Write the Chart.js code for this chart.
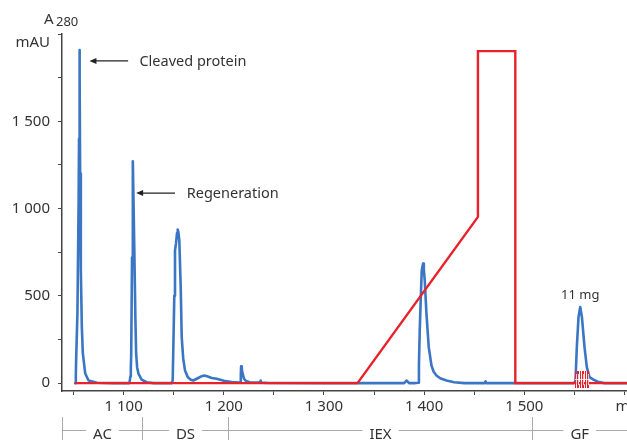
<!DOCTYPE html>
<html>
<head>
<meta charset="utf-8">
<title>Chromatogram</title>
<script src="https://cdn.jsdelivr.net/npm/chart.js@4/dist/chart.umd.min.js"></script>
<style>
  html, body { margin: 0; padding: 0; background: #fff; }
  #wrap { width: 627px; height: 440px; }
</style>
</head>
<body>
<div id="wrap"><canvas id="chromatogram" width="627" height="440"></canvas></div>
<script>
// A280 trace (ml, mAU)
const blueMl = [
  1051.6, 1052.3, 1052.6, 1053.9, 1055.1, 1055.5, 1055.9, 1056.3, 1056.6, 1057.3, 1058.3, 1059.3, 1061.7, 1065, 1073.3, 1090,
  1105.8, 1106.8, 1107.2, 1107.6, 1108.4, 1109.2, 1110.3, 1111.8, 1112.5, 1113.5, 1114.8, 1118, 1123, 1130,
  1148, 1149, 1149.8, 1150.6, 1151.3, 1152.3, 1153.3, 1154, 1154.8, 1155.6, 1157, 1158, 1159.5, 1161.3, 1164, 1167,
  1169.6, 1174, 1178, 1180.6, 1184, 1188, 1192.9, 1200, 1207.9, 1215.5,
  1216.6, 1217, 1217.3, 1218, 1218.8, 1220.1, 1222, 1226, 1235, 1236.4, 1236.8, 1237.3, 1245, 1300, 1380, 1382.4, 1385,
  1390, 1393.9, 1394.8, 1395.6, 1396.6, 1397.6, 1398.9, 1399.7, 1400.6, 1402.3, 1404.6, 1407.3, 1409.5, 1412.3, 1416,
  1422.3, 1430, 1440, 1460.5, 1461.3, 1462, 1548,
  1549, 1550.5, 1551.1, 1552.4, 1554.1, 1555.8, 1557.5, 1560.1, 1562.4, 1565.1, 1569, 1573.4, 1580, 1605
];
const blueMau = [
  0, 40, 130, 400, 1047, 1400, 1908, 1750, 1200, 646, 321, 170, 55, 15, 2, 0,
  0, 40, 83, 170, 720, 1271, 900, 360, 170, 90, 55, 20, 5, 0,
  0, 15, 250, 500, 760, 800, 860, 880, 860, 818, 550, 264, 140, 73, 35, 20,
  15, 28, 40, 44, 38, 30, 25, 14, 6, 4,
  2, 50, 96, 80, 54, 27, 12, 5, 3, 8, 15, 3, 1, 0, 0, 15, 0,
  0, 2, 100, 302, 480, 646, 685, 650, 589, 398, 206, 101, 65, 44, 28,
  15, 5, 0, 0, 10, 0, 0,
  0, 5, 15, 206, 378, 436, 378, 206, 92, 34, 20, 8, 0, 0
];

// gradient / conductivity trace
const redMl = [1051.6, 1333.5, 1453.7, 1453.7, 1491, 1491, 1605];
const redMau = [0, 0, 952, 1902, 1902, 0, 0];

// collected fractions around the GF peak
const fractionMl = [1550.5, 1553, 1555.5, 1558, 1560.5, 1563, 1565.5];

// purification steps along the volume axis
const phaseStart = [1038.5, 1118.5, 1204, 1508];
const phaseNames = ['AC', 'DS', 'IEX', 'GF'];

const yLabelled = [0, 500, 1000, 1500];
const xLabelled = [1100, 1200, 1300, 1400, 1500];
const xUnit = 'ml';

const TEXT = '#333';
const AXIS = '#444';
const RED = '#e8212b';
const FONT = '"Noto Sans", "Liberation Sans", sans-serif';

function fmt(v) {
  return String(v).replace(/\B(?=(\d{3})+(?!\d))/g, ' ');
}

function toPoints(xs, ys) {
  return xs.map((x, i) => ({x: x, y: ys[i]}));
}

function arrow(ctx, x1, y, x2) {
  ctx.beginPath();
  ctx.moveTo(x1, y);
  ctx.lineTo(x2 + 5, y);
  ctx.stroke();
  ctx.beginPath();
  ctx.moveTo(x2, y);
  ctx.lineTo(x2 + 7, y - 3);
  ctx.lineTo(x2 + 7, y + 3);
  ctx.closePath();
  ctx.fill();
}

const extras = {
  id: 'extras',
  afterDatasetsDraw(chart) {
    const {ctx, scales: {x, y}} = chart;
    ctx.save();
    // fraction blocks: red with thin white separators
    const top = Math.round(y.getPixelForValue(70));
    const bottom = Math.round(y.getPixelForValue(-30));
    for (let i = 0; i < fractionMl.length - 1; i++) {
      const a = Math.round(x.getPixelForValue(fractionMl[i]));
      const b = Math.round(x.getPixelForValue(fractionMl[i + 1]));
      ctx.fillStyle = RED;
      ctx.fillRect(a, top, b - a - 1, bottom - top);
      ctx.fillStyle = 'rgba(255,255,255,0.75)';
      ctx.fillRect(a + 1, top + 3, 1, bottom - top - 6);
      ctx.fillRect(a, top + 8, b - a - 1, 1);
    }
    ctx.restore();
  },
  afterDraw(chart) {
    const {ctx, scales: {x, y}} = chart;
    ctx.save();
    ctx.fillStyle = TEXT;
    ctx.textBaseline = 'alphabetic';

    // axis title
    ctx.font = '15px ' + FONT;
    ctx.textAlign = 'left';
    ctx.fillText('A', 44, 24);
    ctx.font = '13px ' + FONT;
    ctx.fillText('280', 56, 26);
    ctx.font = '15px ' + FONT;
    ctx.textAlign = 'right';
    ctx.fillText('mAU', 50, 47);

    // annotations
    ctx.strokeStyle = '#222';
    ctx.fillStyle = '#222';
    ctx.lineWidth = 1.3;
    ctx.font = '14.5px ' + FONT;
    let ay = y.getPixelForValue(1846);
    arrow(ctx, x.getPixelForValue(1104.5), ay, x.getPixelForValue(1065.9));
    ctx.fillStyle = TEXT;
    ctx.textAlign = 'left';
    ctx.textBaseline = 'middle';
    ctx.fillText('Cleaved protein', x.getPixelForValue(1115.8), ay + 1);

    ay = y.getPixelForValue(1089);
    ctx.fillStyle = '#222';
    arrow(ctx, x.getPixelForValue(1151.3), ay, x.getPixelForValue(1112.5));
    ctx.fillStyle = TEXT;
    ctx.fillText('Regeneration', x.getPixelForValue(1163), ay + 1);

    ctx.font = '13px ' + FONT;
    ctx.textAlign = 'center';
    ctx.fillText('11 mg', x.getPixelForValue(1555.8), y.getPixelForValue(505));

    // step brackets under the axis
    ctx.strokeStyle = '#aaa';
    ctx.lineWidth = 1;
    ctx.font = '15px ' + FONT;
    ctx.textBaseline = 'alphabetic';
    const lineY = 430.5;
    phaseStart.forEach((ml, i) => {
      const left = Math.round(x.getPixelForValue(ml)) + 0.5;
      const right = i + 1 < phaseStart.length ? Math.round(x.getPixelForValue(phaseStart[i + 1])) + 0.5 : chart.width;
      ctx.beginPath();
      ctx.moveTo(left, 417);
      ctx.lineTo(left, 440);
      ctx.stroke();
      const mid = (left + right) / 2;
      const w = ctx.measureText(phaseNames[i]).width;
      ctx.beginPath();
      ctx.moveTo(left, lineY);
      ctx.lineTo(mid - w / 2 - 7, lineY);
      ctx.moveTo(mid + w / 2 + 7, lineY);
      ctx.lineTo(right, lineY);
      ctx.stroke();
      ctx.fillText(phaseNames[i], mid, 439);
    });
    ctx.restore();
  }
};

new Chart(document.getElementById('chromatogram'), {
  type: 'line',
  data: {
    datasets: [
      {
        label: 'A280',
        data: toPoints(blueMl, blueMau),
        borderColor: '#3a76c3',
        borderWidth: 2.6,
        borderJoinStyle: 'round',
        borderCapStyle: 'round',
        pointRadius: 0,
        tension: 0,
        order: 2
      },
      {
        label: 'Gradient',
        data: toPoints(redMl, redMau),
        borderColor: RED,
        borderWidth: 2.4,
        borderJoinStyle: 'miter',
        pointRadius: 0,
        tension: 0,
        order: 1
      }
    ]
  },
  options: {
    responsive: false,
    animation: false,
    devicePixelRatio: 1,
    layout: {padding: {top: 34, left: 0, right: 0, bottom: 0}},
    plugins: {legend: {display: false}, tooltip: {enabled: false}},
    scales: {
      x: {
        type: 'linear',
        min: 1038.5,
        max: 1602.5,
        afterBuildTicks: (axis) => {
          const ticks = [];
          for (let v = Math.ceil(axis.min / 50) * 50; v <= axis.max; v += 50) ticks.push({value: v});
          axis.ticks = ticks;
        },
        afterFit: (axis) => {
          axis.height = 49;
          axis.paddingLeft = 0;
          axis.paddingRight = 0;
        },
        border: {display: true, color: AXIS, width: 1.5},
        grid: {drawOnChartArea: false, drawTicks: true, tickLength: 4, color: AXIS},
        ticks: {
          autoSkip: false,
          maxRotation: 0,
          padding: 3,
          color: TEXT,
          font: {family: FONT, size: 15},
          callback: (v) => xLabelled.includes(v) ? fmt(v) : (v === 1600 ? xUnit : '')
        }
      },
      y: {
        min: -45,
        max: 2000,
        afterBuildTicks: (axis) => {
          const ticks = [];
          for (let v = 0; v <= axis.max; v += 250) ticks.push({value: v});
          axis.ticks = ticks;
        },
        afterFit: (axis) => {
          axis.width = 62;
          axis.paddingTop = 0;
          axis.paddingBottom = 0;
        },
        border: {display: true, color: AXIS, width: 1.5},
        grid: {drawOnChartArea: false, drawTicks: true, tickLength: 4, color: AXIS},
        ticks: {
          autoSkip: false,
          padding: 8,
          color: TEXT,
          font: {family: FONT, size: 15},
          callback: (v) => yLabelled.includes(v) ? fmt(v) : ''
        }
      }
    }
  },
  plugins: [extras]
});
</script>
</body>
</html>
